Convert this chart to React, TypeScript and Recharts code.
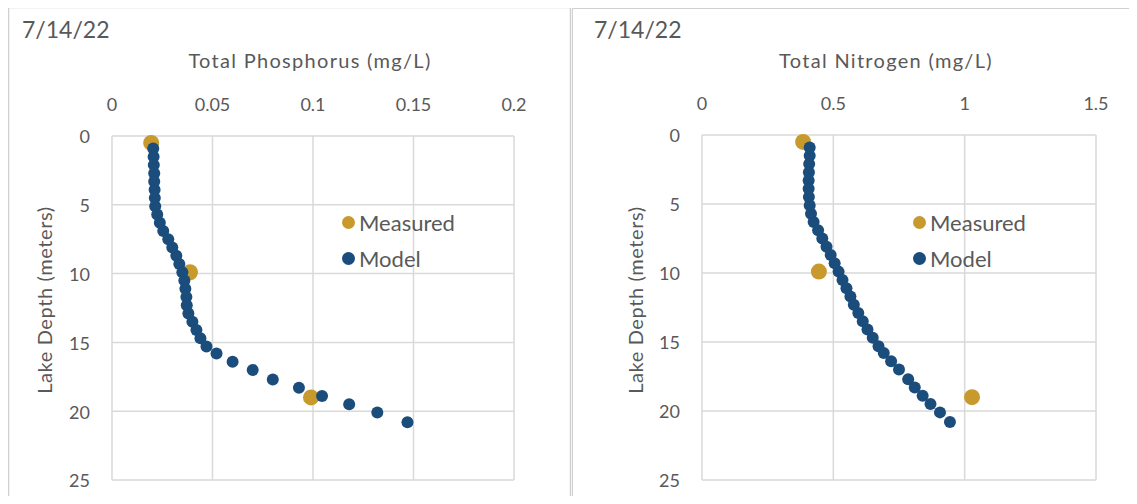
import React from 'react';
import { ScatterChart, Scatter, XAxis, YAxis, CartesianGrid } from 'recharts';

const measuredDepth = [0.5, 9.9, 19.0];
const measuredP = [0.0195, 0.0388, 0.099];
const measuredN = [0.385, 0.445, 1.028];

const modelDepth = [
  0.9, 1.5, 2.1, 2.7, 3.3, 3.9, 4.5, 5.1, 5.7, 6.3, 6.9, 7.5, 8.1, 8.7, 9.3, 9.9, 10.5,
  11.1, 11.7, 12.3, 12.9, 13.5, 14.1, 14.7, 15.3, 15.8, 16.4, 17.0, 17.7, 18.3, 18.9,
  19.5, 20.1, 20.8,
];
const modelP = [
  0.0205, 0.0207, 0.0208, 0.021, 0.021, 0.0212, 0.0213, 0.0215, 0.0225, 0.0238, 0.0255,
  0.028, 0.03, 0.032, 0.0335, 0.035, 0.036, 0.0365, 0.037, 0.0372, 0.038, 0.04, 0.042,
  0.044, 0.047, 0.052, 0.06, 0.07, 0.08, 0.093, 0.1045, 0.118, 0.132, 0.147,
];
const modelN = [
  0.41, 0.41, 0.408, 0.407, 0.406, 0.406, 0.407, 0.41, 0.415, 0.425, 0.442, 0.458, 0.474,
  0.49, 0.505, 0.52, 0.535, 0.55, 0.565, 0.578, 0.595, 0.612, 0.63, 0.65, 0.672, 0.692,
  0.72, 0.75, 0.785, 0.81, 0.84, 0.87, 0.906, 0.944,
];

const depthTicks = [0, 5, 10, 15, 20, 25];
const pTicks = [0, 0.05, 0.1, 0.15, 0.2];
const nTicks = [0, 0.5, 1, 1.5];

const GOLD = '#C8992C';
const NAVY = '#1B4D7C';
const TEXT = '#595959';
const GRID = '#D9D9D9';
const FRAME = '#D0D0D0';
const FONT = 'Lato, "Open Sans", sans-serif';

const toPoints = (xs: number[], ys: number[]) => xs.map((x, i) => ({ x, y: ys[i] }));

const dot = (r: number, fill: string) => (props: any) =>
  <circle cx={props.cx} cy={props.cy} r={r} fill={fill} />;

type PanelProps = {
  left: number;
  width: number;
  margin: { top: number; right: number; bottom: number; left: number };
  xTicks: number[];
  xMax: number;
  measured: { x: number; y: number }[];
  model: { x: number; y: number }[];
  xTitle: string;
  xTitleCenter: number;
  yTitleX: number;
  legendLeft: number;
};

const Panel: React.FC<PanelProps> = (p) => {
  const tickStyle = { fill: TEXT, fontSize: 18, fontFamily: FONT };
  return (
    <div style={{ position: 'absolute', left: p.left, top: 0, width: p.width, height: 504 }}>
      <ScatterChart width={p.width} height={504} margin={p.margin}>
        <CartesianGrid stroke={GRID} strokeWidth={1.5} />
        <XAxis
          type="number"
          dataKey="x"
          orientation="top"
          domain={[0, p.xMax]}
          ticks={p.xTicks}
          height={40}
          axisLine={false}
          tickLine={false}
          tickSize={0}
          tickMargin={25}
          tick={tickStyle}
        />
        <YAxis
          type="number"
          dataKey="y"
          reversed
          domain={[0, 25]}
          ticks={depthTicks}
          width={60}
          axisLine={false}
          tickLine={false}
          tickSize={0}
          tickMargin={22}
          tick={{ ...tickStyle, dy: 1 }}
        />
        <Scatter data={p.measured} shape={dot(8, GOLD)} isAnimationActive={false} />
        <Scatter data={p.model} shape={dot(6, NAVY)} isAnimationActive={false} />
      </ScatterChart>
      <div style={{ position: 'absolute', left: 22, top: 15, fontSize: 23, color: TEXT, fontFamily: FONT }}>
        7/14/22
      </div>
      <div
        style={{
          position: 'absolute',
          left: p.xTitleCenter,
          top: 60,
          transform: 'translate(-50%, -50%)',
          fontSize: 20,
          letterSpacing: 1.3,
          color: TEXT,
          fontFamily: FONT,
          whiteSpace: 'nowrap',
        }}
      >
        {p.xTitle}
      </div>
      <div
        style={{
          position: 'absolute',
          left: p.yTitleX,
          top: 300,
          transform: 'translate(-50%, -50%) rotate(-90deg)',
          fontSize: 20,
          letterSpacing: 0.6,
          color: TEXT,
          fontFamily: FONT,
          whiteSpace: 'nowrap',
        }}
      >
        Lake Depth (meters)
      </div>
      <div style={{ position: 'absolute', left: p.legendLeft + 4, top: 204, fontSize: 22, color: TEXT, fontFamily: FONT }}>
        {[
          { label: 'Measured', color: GOLD },
          { label: 'Model', color: NAVY },
        ].map((item) => (
          <div key={item.label} style={{ display: 'flex', alignItems: 'center', height: 36 }}>
            <span style={{ width: 13, height: 13, borderRadius: 7, background: item.color, marginRight: 4 }} />
            {item.label}
          </div>
        ))}
      </div>
    </div>
  );
};

export default function App() {
  return (
    <div style={{ position: 'relative', margin: -8, width: 1137, height: 504, overflow: 'hidden', background: '#fff' }}>
      <Panel
        left={0}
        width={570}
        margin={{ top: 96, right: 56, bottom: 24, left: 52 }}
        xTicks={pTicks}
        xMax={0.2}
        measured={toPoints(measuredP, measuredDepth)}
        model={toPoints(modelP, modelDepth)}
        xTitle="Total Phosphorus (mg/L)"
        xTitleCenter={310}
        yTitleX={44}
        legendLeft={338}
      />
      <Panel
        left={572}
        width={565}
        margin={{ top: 95, right: 41, bottom: 24, left: 70 }}
        xTicks={nTicks}
        xMax={1.5}
        measured={toPoints(measuredN, measuredDepth)}
        model={toPoints(modelN, modelDepth)}
        xTitle="Total Nitrogen (mg/L)"
        xTitleCenter={314}
        yTitleX={63}
        legendLeft={337}
      />
      <svg width={1137} height={504} style={{ position: 'absolute', left: 0, top: 0, pointerEvents: 'none' }}>
        <path d="M8.5 504 V7.5 H570.5 V504" fill="none" stroke={FRAME} strokeWidth={1.5} />
        <path d="M572.5 504 V8.5 H1137" fill="none" stroke={FRAME} strokeWidth={1} />
      </svg>
    </div>
  );
}
